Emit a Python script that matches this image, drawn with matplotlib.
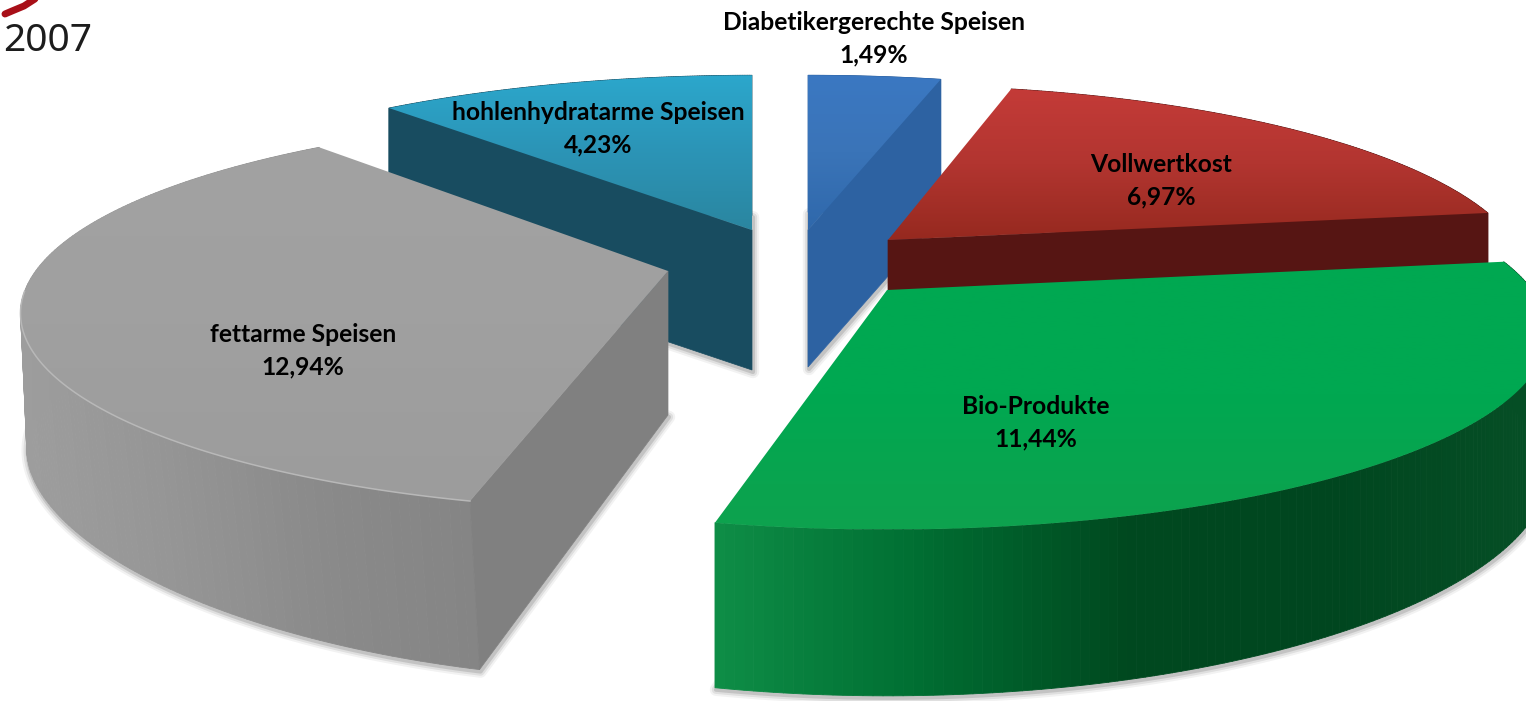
import numpy as np
import matplotlib
matplotlib.use("Agg")
import matplotlib.pyplot as plt
from matplotlib.collections import PolyCollection
from matplotlib.colors import LinearSegmentedColormap
from matplotlib.patches import Polygon

# Data, clockwise from 12 o'clock
categories = ["Diabetikergerechte Speisen", "Vollwertkost", "Bio-Produkte",
              "fettarme Speisen", "hohlenhydratarme Speisen"]
values = [1.49, 6.97, 11.44, 12.94, 4.23]

# Layout of each slice (pixels, degrees)
apex_x = [808, 888, 887, 668, 752]
apex_y = [230, 240, 290, 271, 230]
depths = [137, 140, 140, 144, 140]
nudge_deg = [0, -0.7, -1.1, 1.1, 0]
x_scale = [1, 0.975, 1.005, 0.985, 1]
base_shrink = [0.05, 0.05, 0.0, 0.05, 0.05]
front_face = [-1, -1, None, 0, 0]
label_x = [874, 1161, 1036, 303, 598]
label_y = [23, 165, 407, 335, 113]
draw_order = [4, 0, 1, 3, 2]

# Colours: top face gradient, radial faces, outer wall gradient
top_colors = [["#3b78c2", "#3a74b8", "#2f68ab"],
              ["#c43b38", "#b23530", "#96291f"],
              ["#00a851", "#00a851", "#0ea24e"],
              ["#a2a2a2", "#a0a0a0", "#9c9c9c"],
              ["#2ba7cc", "#2c94b6", "#2a86a0"]]
side_colors = ["#2d62a2", "#561513", "#005a2a", "#808080", "#184c60"]
wall_colors = [["#2d62a2", "#2d62a2"],
               ["#561513", "#561513"],
               ["#0e8e47", "#006e32", "#00481f", "#00461f", "#064f26"],
               ["#9d9d9d", "#959595", "#8a8a8a", "#858585"],
               ["#184c60", "#184c60"]]

# Perspective of the tilted disc
RX, RY, TILT = 642, 188, 0.215


def rim(theta, sx=1):
    w = 1 + TILT * np.cos(theta)
    return sx * RX * np.sin(theta) / w, -RY * np.cos(theta) / w


def gradient_fill(ax, pts, colors, zorder):
    cmap = LinearSegmentedColormap.from_list("g", colors)
    y0, y1 = pts[:, 1].min(), pts[:, 1].max()
    x0, x1 = pts[:, 0].min(), pts[:, 0].max()
    grad = np.linspace(0, 1, 256).reshape(-1, 1)
    im = ax.imshow(grad, cmap=cmap, extent=(x0, x1, y1, y0), aspect="auto",
                   origin="upper", zorder=zorder)
    im.set_clip_path(Polygon(pts, closed=True, transform=ax.transData))


plt.rcParams["font.family"] = ["Lato", "DejaVu Sans"]
fig = plt.figure(figsize=(15.26, 7.01), dpi=100)
ax = fig.add_axes([0, 0, 1, 1])

edges = np.concatenate([[0], np.cumsum(values)]) / sum(values) * 2 * np.pi

for rank, i in enumerate(draw_order):
    z = 2 + rank * 2
    t = np.linspace(edges[i], edges[i + 1], 160) + np.radians(nudge_deg[i])
    x, y = rim(t, x_scale[i])
    ax_, ay_, d = apex_x[i], apex_y[i], depths[i]
    front = np.clip(-np.cos(t), 0, 1)
    top_x, top_y = ax_ + x, ay_ + y
    low_x = ax_ + x * (1 - base_shrink[i] * front)
    low_y = ay_ + y * (1 + 0.11 * front) + d

    # soft shadow round the lower part of the slice
    outline = np.column_stack([
        np.concatenate([[ax_], low_x]),
        np.concatenate([[ay_ + d], low_y]),
    ])
    for lw, a in [(9, 0.05), (6, 0.08), (3, 0.12)]:
        ax.add_patch(Polygon(outline + [1, 2], closed=True, facecolor="none",
                             edgecolor="black", linewidth=lw, alpha=a,
                             zorder=z - 1, joinstyle="round"))

    # outer wall in strips, so the shading can run along it
    cmap = LinearSegmentedColormap.from_list("w", wall_colors[i])
    strips = [[(top_x[k], top_y[k]), (top_x[k + 1], top_y[k + 1]),
               (low_x[k + 1], low_y[k + 1]), (low_x[k], low_y[k])]
              for k in range(len(t) - 1)]
    span = max(np.ptp(top_x), 1)
    shades = [cmap((top_x[k] - top_x.min()) / span) for k in range(len(t) - 1)]
    ax.add_collection(PolyCollection(strips, facecolors=shades, edgecolors=shades,
                                     linewidths=0.6, zorder=z))

    # the radial face that looks towards the viewer
    k = front_face[i]
    if k is not None:
        face = [(ax_, ay_), (top_x[k], top_y[k]), (low_x[k], low_y[k]), (ax_, ay_ + d)]
        ax.add_patch(Polygon(face, closed=True, facecolor=side_colors[i],
                             edgecolor=side_colors[i], linewidth=0.5, zorder=z + 0.2))

    # top face
    pts = np.column_stack([np.concatenate([[ax_], top_x]),
                           np.concatenate([[ay_], top_y])])
    gradient_fill(ax, pts, top_colors[i], z + 0.5)

    # label
    ax.text(label_x[i], label_y[i], categories[i], ha="center", va="center",
            fontsize=17.7, fontweight="bold", color="black", zorder=30)
    ax.text(label_x[i], label_y[i] + 32, f"{values[i]:.2f}%".replace(".", ","),
            ha="center", va="center", fontsize=17.7, fontweight="bold",
            color="black", zorder=30)

# light edge along the front of the grey top face
t = np.linspace(edges[3], edges[4], 160) + np.radians(nudge_deg[3])
x, y = rim(t, x_scale[3])
keep = np.cos(t) < -0.1
ax.plot(apex_x[3] + x[keep], apex_y[3] + y[keep], color="#b8b8b8", lw=1.1, zorder=25)

# event logo in the corner
swoosh_x = np.array([5, 12, 24, 38])
swoosh_y = np.array([14, 11, 6, -3])
ax.plot(swoosh_x, swoosh_y, color="#a80f18", lw=5, solid_capstyle="round", zorder=30)
ax.text(3, 41, "2007", ha="left", va="center", fontsize=28, color="#1c1c1c",
        family=["Noto Sans", "DejaVu Sans"], zorder=30)

ax.set_xlim(0, 1526)
ax.set_ylim(701, 0)
ax.axis("off")
fig.savefig("out.png", dpi=100, facecolor="white")
